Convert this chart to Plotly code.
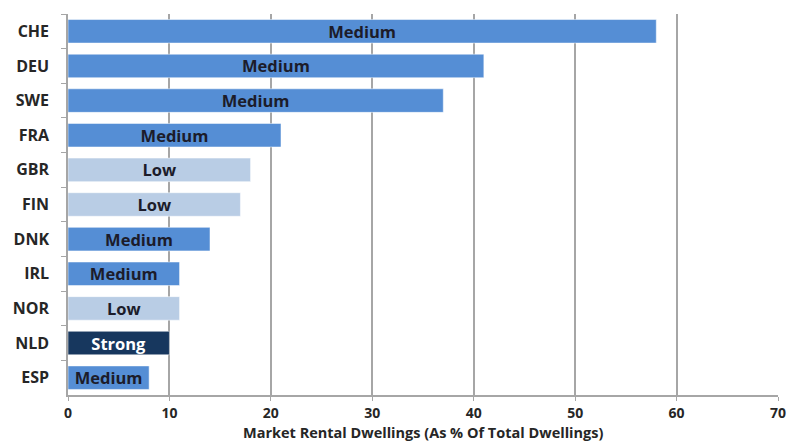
import plotly.graph_objects as go

countries = ["CHE", "DEU", "SWE", "FRA", "GBR", "FIN", "DNK", "IRL", "NOR", "NLD", "ESP"]
rental_share = [58, 41, 37, 21, 18, 17, 14, 11, 11, 10, 8]
regulation = ["Medium", "Medium", "Medium", "Medium", "Low", "Low", "Medium", "Medium", "Low", "Strong", "Medium"]
x_ticks = [0, 10, 20, 30, 40, 50, 60, 70]
x_title = "Market Rental Dwellings (As % Of Total Dwellings)"

fill = {"Medium": "#558ED5", "Low": "#B9CDE5", "Strong": "#17375E"}
ink = {"Medium": "#1C1C2A", "Low": "#1C1C2A", "Strong": "#FFFFFF"}
font_family = "Open Sans, Lato, sans-serif"
axis_ink = "#262626"

fig = go.Figure(
    go.Bar(
        x=rental_share,
        y=countries,
        orientation="h",
        marker=dict(color=[fill[r] for r in regulation],
                    line=dict(color="rgba(255,255,255,0.5)", width=1)),
        text=regulation,
        textposition="inside",
        insidetextanchor="middle",
        constraintext="none",
        textangle=0,
        textfont=dict(family=font_family, size=16.5, color=[ink[r] for r in regulation],
                      weight="bold"),
        hoverinfo="skip",
    )
)

fig.update_layout(
    width=788,
    height=441,
    margin=dict(l=68, r=10, t=14, b=46),
    paper_bgcolor="white",
    plot_bgcolor="white",
    bargap=0.32,
    showlegend=False,
)

fig.update_xaxes(
    range=[0, 70],
    tickvals=x_ticks,
    automargin=False,
    showgrid=True,
    gridcolor="#A6A6A6",
    gridwidth=1.5,
    zeroline=False,
    showline=True,
    linecolor="#A6A6A6",
    linewidth=1.5,
    ticks="outside",
    ticklen=4,
    tickcolor="#A6A6A6",
    tickfont=dict(family=font_family, size=14, color=axis_ink, weight="bold"),
)

# axis title sits just under the tick labels at the bottom edge
fig.add_annotation(
    text=x_title,
    xref="paper", yref="paper",
    x=0.5, y=0,
    xanchor="center", yanchor="top",
    yshift=-26,
    showarrow=False,
    font=dict(family=font_family, size=14.5, color=axis_ink, weight="bold"),
)

fig.update_yaxes(
    autorange="reversed",
    automargin=False,
    showline=True,
    linecolor="#A6A6A6",
    linewidth=1.5,
    ticks="outside",
    tickson="boundaries",
    ticklen=5,
    tickcolor="#A6A6A6",
    ticklabelstandoff=14,
    tickfont=dict(family=font_family, size=16, color=axis_ink, weight="bold"),
    showgrid=False,
)

fig.write_html("out.html")
